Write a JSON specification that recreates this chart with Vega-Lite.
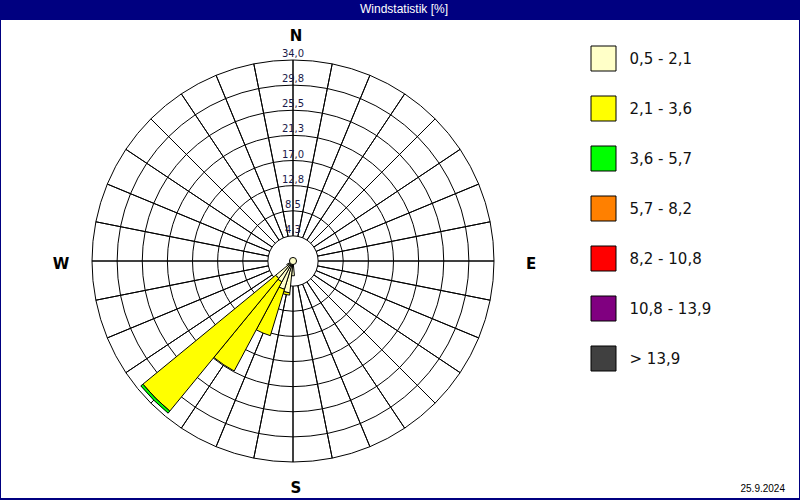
{
  "$schema": "https://vega.github.io/schema/vega-lite/v6.json",
  "width": 798,
  "height": 478,
  "autosize": {"type": "none"},
  "padding": {"left": 1, "top": 20, "right": 1, "bottom": 2},
  "background": "#000080",
  "title": {"text": "Windstatistik [%]", "color": "white", "font": "Liberation Sans", "fontSize": 12, "fontWeight": "normal", "anchor": "middle", "frame": "group", "offset": 4, "dx": 4},
  "config": {
    "view": {"fill": "white", "stroke": null},
    "legend": {"orient": "none", "legendX": 589.5, "legendY": 25.5, "title": null, "symbolType": "square", "symbolSize": 625, "symbolStrokeColor": "black", "symbolStrokeWidth": 1, "symbolOpacity": 1, "labelFont": "DejaVu Sans", "labelFontSize": 15, "labelColor": "#111111", "labelOffset": 13, "rowPadding": 20, "padding": 0, "labelLimit": 300}
  },
  "layer": [
    {
      "data": {"values": [{"r": 4.25}, {"r": 8.5}, {"r": 12.75}, {"r": 17}, {"r": 21.25}, {"r": 25.5}, {"r": 29.75}, {"r": 34}]},
      "mark": {"type": "arc", "filled": false, "stroke": "black", "strokeWidth": 1},
      "encoding": {
        "x": {"value": 292},
        "y": {"value": 241},
        "theta": {"value": 0},
        "theta2": {"value": 6.2832},
        "radius": {"field": "r", "type": "quantitative", "stack": null, "scale": {"type": "linear", "domain": [0, 34], "range": [0, 201], "zero": true}}
      }
    },
    {
      "data": {"values": [{"dir": 0}, {"dir": 11.25}, {"dir": 22.5}, {"dir": 33.75}, {"dir": 45}, {"dir": 56.25}, {"dir": 67.5}, {"dir": 78.75}, {"dir": 90}, {"dir": 101.25}, {"dir": 112.5}, {"dir": 123.75}, {"dir": 135}, {"dir": 146.25}, {"dir": 157.5}, {"dir": 168.75}, {"dir": 180}, {"dir": 191.25}, {"dir": 202.5}, {"dir": 213.75}, {"dir": 225}, {"dir": 236.25}, {"dir": 247.5}, {"dir": 258.75}, {"dir": 270}, {"dir": 281.25}, {"dir": 292.5}, {"dir": 303.75}, {"dir": 315}, {"dir": 326.25}, {"dir": 337.5}, {"dir": 348.75}]},
      "mark": {"type": "arc", "filled": false, "stroke": "black", "strokeWidth": 1},
      "encoding": {
        "x": {"value": 292},
        "y": {"value": 241},
        "theta": {"field": "dir", "type": "quantitative", "stack": null, "scale": {"type": "linear", "domain": [0, 360], "range": [0, 6.283185307179586], "zero": true}},
        "theta2": {"field": "dir"},
        "radius": {"datum": 34, "type": "quantitative", "stack": null, "scale": {"type": "linear", "domain": [0, 34], "range": [0, 201], "zero": true}},
        "radius2": {"datum": 4.25}
      }
    },
    {
      "data": {"values": [
        {"dir": 180, "from": 174.375, "to": 185.625, "cls": "0,5 - 2,1", "lo": 0, "hi": 2.5},
        {"dir": 191.25, "from": 185.625, "to": 196.875, "cls": "0,5 - 2,1", "lo": 0, "hi": 5.4},
        {"dir": 191.25, "from": 185.625, "to": 196.875, "cls": "2,1 - 3,6", "lo": 5.4, "hi": 5.8},
        {"dir": 202.5, "from": 196.875, "to": 208.125, "cls": "0,5 - 2,1", "lo": 0, "hi": 5.0},
        {"dir": 202.5, "from": 196.875, "to": 208.125, "cls": "2,1 - 3,6", "lo": 5.0, "hi": 13.2},
        {"dir": 213.75, "from": 208.125, "to": 219.375, "cls": "0,5 - 2,1", "lo": 0, "hi": 4.0},
        {"dir": 213.75, "from": 208.125, "to": 219.375, "cls": "2,1 - 3,6", "lo": 4.0, "hi": 21.1},
        {"dir": 225, "from": 219.375, "to": 230.625, "cls": "0,5 - 2,1", "lo": 0, "hi": 3.8},
        {"dir": 225, "from": 219.375, "to": 230.625, "cls": "2,1 - 3,6", "lo": 3.8, "hi": 32.85},
        {"dir": 225, "from": 219.375, "to": 230.625, "cls": "3,6 - 5,7", "lo": 32.85, "hi": 33.3},
        {"dir": 236.25, "from": 230.625, "to": 241.875, "cls": "0,5 - 2,1", "lo": 0, "hi": 1.2}
      ]},
      "mark": {"type": "arc", "stroke": "black", "strokeWidth": 1},
      "encoding": {
        "x": {"value": 292},
        "y": {"value": 241},
        "theta": {"field": "from", "type": "quantitative", "stack": null, "scale": {"type": "linear", "domain": [0, 360], "range": [0, 6.283185307179586], "zero": true}},
        "theta2": {"field": "to"},
        "radius": {"field": "hi", "type": "quantitative", "stack": null, "scale": {"type": "linear", "domain": [0, 34], "range": [0, 201], "zero": true}},
        "radius2": {"field": "lo"},
        "color": {"field": "cls", "type": "nominal", "scale": {"domain": ["0,5 - 2,1", "2,1 - 3,6", "3,6 - 5,7", "5,7 - 8,2", "8,2 - 10,8", "10,8 - 13,9", "\u2002> 13,9"], "range": ["#ffffc8", "#ffff00", "#00ff00", "#ff8000", "#ff0000", "#800080", "#404040"]}, "legend": {}}
      }
    },
    {
      "data": {"values": [{"r": 0.6}]},
      "mark": {"type": "arc", "fill": "#ffffc8", "stroke": "black", "strokeWidth": 1},
      "encoding": {
        "x": {"value": 292},
        "y": {"value": 241},
        "theta": {"value": 0},
        "theta2": {"value": 6.2832},
        "radius": {"field": "r", "type": "quantitative", "stack": null, "scale": {"type": "linear", "domain": [0, 34], "range": [0, 201], "zero": true}}
      }
    },
    {
      "data": {"values": [{"r": 4.25, "t": "4,3"}, {"r": 8.5, "t": "8,5"}, {"r": 12.75, "t": "12,8"}, {"r": 17, "t": "17,0"}, {"r": 21.25, "t": "21,3"}, {"r": 25.5, "t": "25,5"}, {"r": 29.75, "t": "29,8"}, {"r": 34, "t": "34,0"}]},
      "mark": {"type": "text", "font": "DejaVu Sans", "fontSize": 10, "color": "#1a1a4a", "baseline": "bottom", "align": "center", "dy": -1},
      "encoding": {
        "x": {"value": 292},
        "y": {"value": 241},
        "theta": {"value": 0},
        "radius": {"field": "r", "type": "quantitative", "stack": null, "scale": {"type": "linear", "domain": [0, 34], "range": [0, 201], "zero": true}},
        "text": {"field": "t"}
      }
    },
    {
      "data": {"values": [{"t": "N", "a": 0}, {"t": "S", "a": 180}]},
      "mark": {"type": "text", "font": "DejaVu Sans", "fontSize": 15, "fontWeight": "bold", "color": "black", "baseline": "middle", "align": "center"},
      "encoding": {
        "x": {"value": 295},
        "y": {"value": 242},
        "theta": {"field": "a", "type": "quantitative", "stack": null, "scale": {"type": "linear", "domain": [0, 360], "range": [0, 6.283185307179586], "zero": true}},
        "radius": {"value": 226},
        "text": {"field": "t"}
      }
    },
    {
      "data": {"values": [{"t": "E", "a": 90}, {"t": "W", "a": 270}]},
      "mark": {"type": "text", "font": "DejaVu Sans", "fontSize": 15, "fontWeight": "bold", "color": "black", "baseline": "middle", "align": "center"},
      "encoding": {
        "x": {"value": 295},
        "y": {"value": 244},
        "theta": {"field": "a", "type": "quantitative", "stack": null, "scale": {"type": "linear", "domain": [0, 360], "range": [0, 6.283185307179586], "zero": true}},
        "radius": {"value": 235},
        "text": {"field": "t"}
      }
    },
    {
      "data": {"values": [{"t": "25.9.2024"}]},
      "mark": {"type": "text", "font": "Liberation Sans", "fontSize": 10, "color": "black", "baseline": "middle", "align": "right"},
      "encoding": {
        "x": {"value": 784},
        "y": {"value": 469},
        "text": {"field": "t"}
      }
    }
  ]
}
